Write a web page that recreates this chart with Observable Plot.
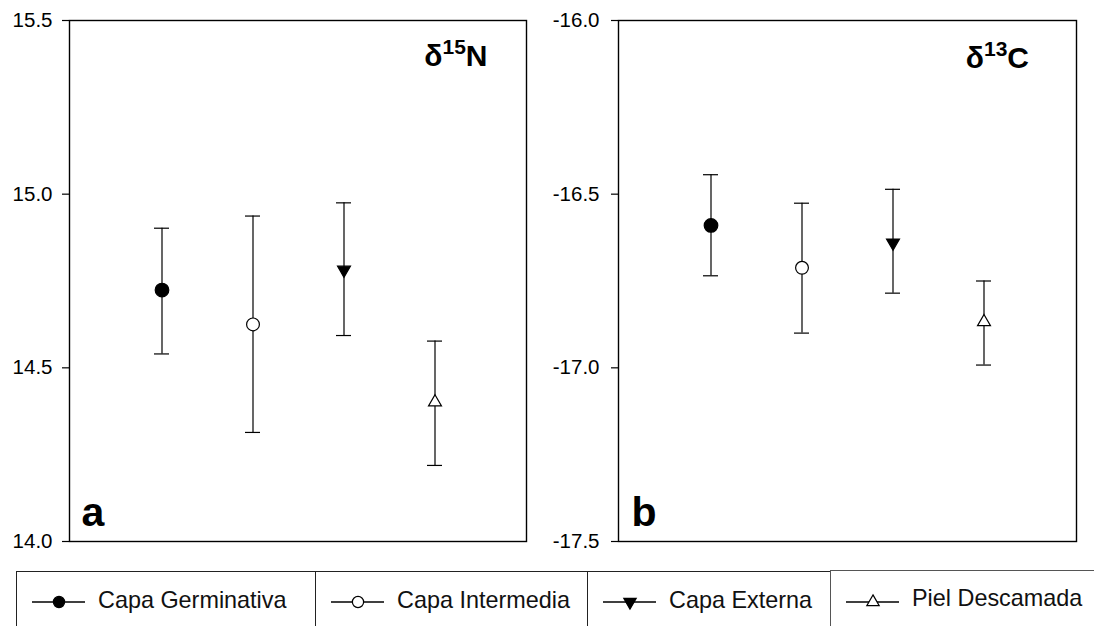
<!DOCTYPE html>
<html>
<head>
<meta charset="utf-8">
<script src="https://cdn.jsdelivr.net/npm/d3@7"></script>
<script src="https://cdn.jsdelivr.net/npm/@observablehq/plot@0.6"></script>
<style>
  html, body { margin: 0; padding: 0; background: #fff; }
  #page { position: relative; width: 1094px; height: 626px; overflow: hidden; font-family: "Liberation Sans", Arial, sans-serif; }
  #left, #right { position: absolute; top: 0; }
  #left { left: 0; }
  #right { left: 547px; }
  .lbox { position: absolute; top: 571px; height: 70px; border: 1.4px solid #222; border-bottom: none; box-sizing: border-box; }
  .ltext { position: absolute; top: 588.5px; font-size: 23.4px; line-height: 23.4px; color: #111; white-space: nowrap; }
  .lsym { position: absolute; top: 592px; }
</style>
</head>
<body>
<div id="page">
  <div id="left"></div>
  <div id="right"></div>
  <div id="legend"></div>
</div>
<script>
// ---- data ----
const categories = ["Capa Germinativa", "Capa Intermedia", "Capa Externa", "Piel Descamada"];
const n15Mean = [14.724, 14.625, 14.782, 14.401];
const n15Low  = [14.540, 14.314, 14.593, 14.219];
const n15High = [14.902, 14.937, 14.975, 14.577];
const c13Mean = [-16.590, -16.712, -16.640, -16.868];
const c13Low  = [-16.735, -16.900, -16.785, -16.992];
const c13High = [-16.444, -16.526, -16.486, -16.750];
const n15Ticks = [14.0, 14.5, 15.0, 15.5];
const c13Ticks = [-17.5, -17.0, -16.5, -16.0];

// ---- styles (per category) ----
const markerStyle = {
  "Capa Germinativa": {symbol: "circle", fill: "black", r: 6.8, rotate: 0},
  "Capa Intermedia": {symbol: "circle", fill: "white", r: 6.4, rotate: 0},
  "Capa Externa": {symbol: "triangle", fill: "black", r: 4.8, rotate: 180},
  "Piel Descamada": {symbol: "triangle", fill: "white", r: 4.8, rotate: 0}
};

function rowsOf(mean, lo, hi) {
  return categories.map((c, i) => ({cat: c, mean: mean[i], lo: lo[i], hi: hi[i]}));
}

function panel({rows, ticks, title, letter, marginLeft, marginRight, tickPadding, titleDx, titleDy, letterDx}) {
  const dots = categories.map(c => {
    const s = markerStyle[c];
    return Plot.dot(rows.filter(d => d.cat === c), {
      x: "cat", y: "mean", symbol: s.symbol, fill: s.fill, stroke: "black",
      strokeWidth: 1.2, r: s.r, rotate: s.rotate
    });
  });
  const svg = Plot.plot({
    width: 547, height: 560,
    marginLeft, marginRight, marginTop: 20, marginBottom: 19,
    style: {fontFamily: "'Liberation Sans', Arial, sans-serif", fontSize: "20px", color: "black", background: "white"},
    x: {type: "band", domain: categories, paddingInner: 0.836, paddingOuter: 0.918, axis: null},
    y: {domain: [ticks[0], ticks[ticks.length - 1]], axis: null},
    marks: [
      Plot.axisY({ticks, tickFormat: d => d.toFixed(1), tickSize: 7, tickPadding, fontSize: 20.5, label: null, strokeWidth: 1.2}),
      Plot.ruleX(rows, {x: "cat", y1: "lo", y2: "hi", stroke: "black", strokeWidth: 1.2}),
      Plot.tickY(rows, {x: "cat", y: "lo", stroke: "black", strokeWidth: 1.2}),
      Plot.tickY(rows, {x: "cat", y: "hi", stroke: "black", strokeWidth: 1.2}),
      ...dots,
      Plot.frame({stroke: "black", strokeWidth: 1.4}),
      Plot.text([title.plain], {frameAnchor: "top-right", textAnchor: "end", lineAnchor: "top", dx: titleDx, dy: titleDy, fontSize: 30, fontWeight: "bold", fill: "black"}),
      Plot.text([letter], {frameAnchor: "bottom-left", textAnchor: "start", lineAnchor: "bottom", dx: letterDx, dy: -16, fontSize: 41, fontWeight: "bold", fill: "black"})
    ]
  });
  // superscript for isotope label
  d3.select(svg).selectAll("text").filter(function() { return this.textContent === title.plain; })
    .each(function() {
      const t = d3.select(this);
      t.text(null);
      t.append("tspan").text(title.pre);
      t.append("tspan").attr("dy", -11.5).attr("font-size", 21).text(title.sup);
      t.append("tspan").attr("dy", 11.5).text(title.post);
    });
  return svg;
}

document.getElementById("left").append(panel({
  rows: rowsOf(n15Mean, n15Low, n15High), ticks: n15Ticks,
  title: {plain: "δ15N", pre: "δ", sup: "15", post: "N"}, letter: "a",
  marginLeft: 69, marginRight: 21, tickPadding: 10, titleDx: -39, titleDy: 23.7, letterDx: 12
}));
document.getElementById("right").append(panel({
  rows: rowsOf(c13Mean, c13Low, c13High), ticks: c13Ticks,
  title: {plain: "δ13C", pre: "δ", sup: "13", post: "C"}, letter: "b",
  marginLeft: 71, marginRight: 18, tickPadding: 12, titleDx: -47.5, titleDy: 25.7, letterDx: 13
}));

// ---- legend ----
const legendBoxes = [
  {left: 16, right: 315},
  {left: 315, right: 587},
  {left: 587, right: 830},
  {left: 830, right: 1110}
];
const legend = document.getElementById("legend");
categories.forEach((c, i) => {
  const b = legendBoxes[i];
  const box = document.createElement("div");
  box.className = "lbox";
  box.style.left = b.left + "px";
  box.style.width = (b.right - b.left + 1) + "px";
  if (i === 3) { box.style.top = "570px"; box.style.borderColor = "#555"; }
  legend.append(box);
  const s = markerStyle[c];
  const sym = d3.create("svg").attr("class", "lsym").attr("width", 56).attr("height", 20)
    .style("left", (b.left + 15) + "px");
  sym.append("line").attr("x1", 1).attr("x2", 54).attr("y1", 10).attr("y2", 10).attr("stroke", "black").attr("stroke-width", 1.3);
  const shape = s.symbol === "circle" ? d3.symbolCircle : d3.symbolTriangle;
  const size = s.symbol === "circle" ? Math.PI * 5.6 * 5.6 : Math.PI * 4.6 * 4.6;
  sym.append("path").attr("d", d3.symbol(shape, size)())
    .attr("transform", `translate(28,10) rotate(${s.rotate})`)
    .attr("fill", s.fill).attr("stroke", "black").attr("stroke-width", 1.2);
  legend.append(sym.node());
  const t = document.createElement("div");
  t.className = "ltext";
  t.style.left = (b.left + 82) + "px";
  if (i === 3) t.style.top = "586.5px";
  t.textContent = c;
  legend.append(t);
});
</script>
</body>
</html>
